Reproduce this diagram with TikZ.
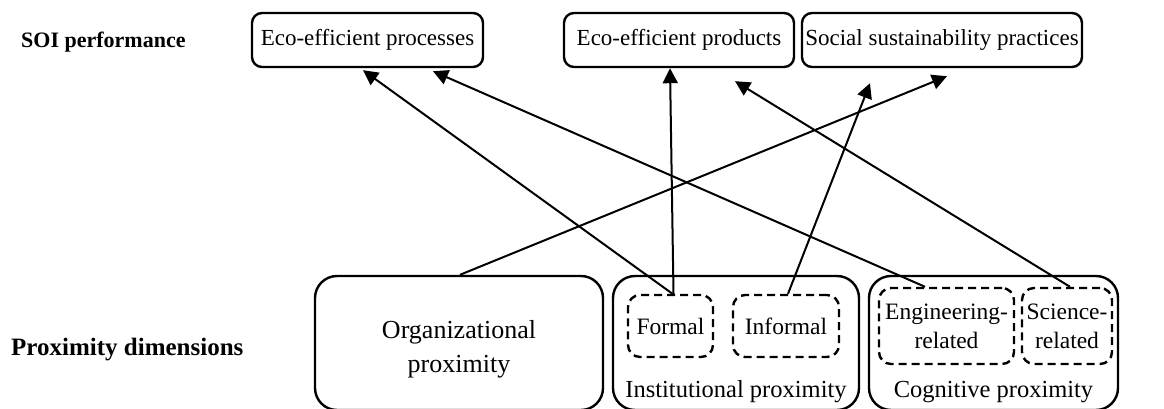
\documentclass[tikz,border=0pt]{standalone}
\usepackage{fontspec}
\setmainfont{Liberation Serif}
\usetikzlibrary{arrows.meta}
\begin{document}
\begin{tikzpicture}[x=1pt,y=-1pt,
  txt/.style={font=\fontsize{23}{34}\selectfont},
  outbox/.style={draw, line width=2.4pt, rounded corners=10pt, inner sep=0pt, txt},
  dimbox/.style={draw, line width=2.4pt, rounded corners=22pt, inner sep=0pt},
  dimlabel/.style={font=\fontsize{24.5}{30}\selectfont, anchor=base, inner sep=0pt},
  subbox/.style={draw, dash pattern=on 8pt off 5pt, line width=2.4pt, rounded corners=12pt,
                 inner sep=0pt, align=center, font=\fontsize{23.5}{29}\selectfont},
  link/.style={-{Triangle[length=15pt,width=15pt]}, line width=2pt},
  rowlabel/.style={anchor=base west, inner sep=0pt}]
\useasboundingbox (0,0) rectangle (1164,409);

% row labels
\node[rowlabel, font=\fontsize{22}{26}\selectfont\bfseries] (soi) at (21,48) {SOI performance};
\node[rowlabel, font=\fontsize{25}{28}\selectfont\bfseries] (prox) at (11,355) {Proximity dimensions};

% outcomes
\node[outbox, minimum width=231pt, minimum height=54pt] (proc) at (367.5,40) {Eco-efficient processes};
\node[outbox, minimum width=230pt, minimum height=54pt] (prod) at (679,40) {Eco-efficient products};
\node[outbox, minimum width=280pt, minimum height=54pt] (soc) at (942,40) {Social sustainability practices};

% proximity dimensions
\node[dimbox, minimum width=288pt, minimum height=134pt] (org) at (459,343) {};
\node[align=center, inner sep=0pt, font=\fontsize{26}{34}\selectfont] (orgtxt) at (459,349) {Organizational\\proximity};
\node[dimbox, minimum width=246pt, minimum height=134pt] (inst) at (736,343) {};
\node[dimlabel] (insttxt) at (736,397) {Institutional proximity};
\node[dimbox, minimum width=249pt, minimum height=134pt] (cog) at (993.5,343) {};
\node[dimlabel] (cogtxt) at (993.5,397) {Cognitive proximity};

% sub-dimensions
\node[subbox, minimum width=85pt, minimum height=62pt] (formal) at (670.5,326) {Formal};
\node[subbox, minimum width=106pt, minimum height=62pt] (informal) at (786,326) {Informal};
\node[subbox, minimum width=135pt, minimum height=76pt] (eng) at (946.5,326) {Engineering-\\related};
\node[subbox, minimum width=90pt, minimum height=76pt] (sci) at (1067,326) {Science-\\related};

% links
\draw[link] ([xshift=2pt]formal.north) -- ([shift={(-4.5,2)}]proc.south);
\draw[link] ([xshift=3pt]formal.north) -- ([shift={(-9,0)}]prod.south);
\draw[link] ([xshift=2pt]informal.north) -- ([shift={(-72,15)}]soc.south);
\draw[link] ([xshift=1pt]org.north) -- ([shift={(5,8)}]soc.south);
\draw[link] ([xshift=-21.5pt]eng.north) -- ([shift={(65.5,3)}]proc.south);
\draw[link] ([xshift=3pt]sci.north) -- ([shift={(56,13)}]prod.south);
\end{tikzpicture}
\end{document}
